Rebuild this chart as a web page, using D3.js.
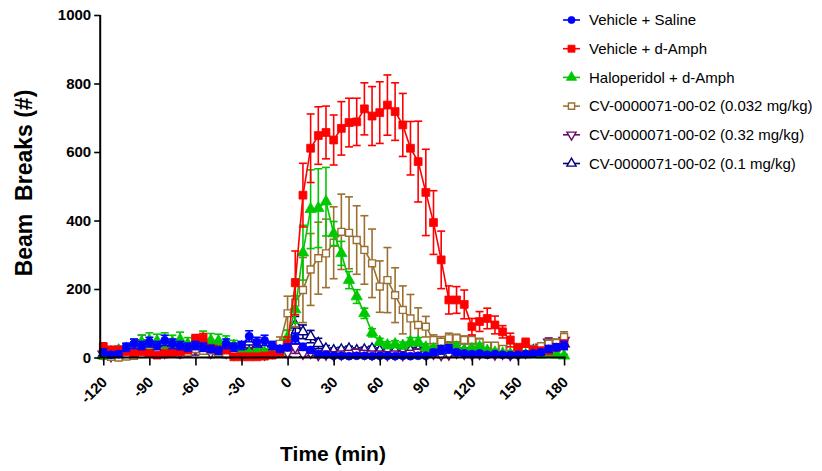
<!DOCTYPE html>
<html>
<head>
<meta charset="utf-8">
<script src="https://cdn.jsdelivr.net/npm/d3@7/dist/d3.min.js"></script>
<style>
  html, body { margin: 0; padding: 0; background: #fff; }
  svg { display: block; }
  text { font-family: Arial, "Liberation Sans", sans-serif; }
</style>
</head>
<body>
<svg id="chart" width="822" height="471"></svg>
<script>
// Sampling times (min), one reading every 5 minutes
const times = d3.range(-120, 181, 5);

const xTicks = [-120, -90, -60, -30, 0, 30, 60, 90, 120, 150, 180];
const yTicks = [0, 200, 400, 600, 800, 1000];

// Mean beam breaks and SEM per group
const salineMean = [15, 8, 10, 30, 40, 35, 45, 35, 50, 40, 35, 30, 35, 30, 25, 20, 40, 30, 35, 62, 45, 50, 35, 25,
  30, 56, 31, 22, 10, 8, 5, 5, 4, 5, 5, 4, 5, 5, 4, 5, 4, 5, 5, 15, 22, 25, 15, 12, 10, 12, 8, 10, 8, 7, 8, 10, 12, 15, 25, 30, 35];
const salineSem = [10, 8, 8, 12, 14, 12, 14, 12, 15, 14, 12, 12, 12, 12, 10, 10, 14, 12, 12, 16, 14, 15, 12, 10,
  10, 15, 10, 8, 6, 5, 4, 4, 4, 4, 4, 4, 4, 4, 4, 4, 4, 4, 4, 8, 12, 12, 8, 6, 6, 6, 5, 5, 5, 5, 5, 6, 6, 8, 10, 10, 12];

const amphMean = [31, 22, 22, 17, 12, 17, 12, 7, 12, 12, 17, 22, 53, 56, 27, 22, 22, 2, 2, 2, 2, 4, 7, 12,
  40, 218, 474, 611, 648, 657, 635, 669, 686, 688, 726, 705, 715, 737, 718, 679, 611, 572, 482, 394, 285, 168, 168, 155,
  90, 105, 114, 95, 75, 51, 30, 43, 22, 20, 20, 30, 40];
const amphSem = [12, 10, 10, 8, 8, 8, 8, 6, 8, 8, 8, 10, 14, 14, 10, 10, 10, 4, 4, 4, 4, 4, 5, 6,
  20, 93, 93, 100, 84, 77, 73, 78, 71, 69, 76, 86, 90, 88, 84, 92, 78, 118, 126, 93, 84, 41, 39, 42,
  24, 29, 30, 26, 18, 20, 6, 13, 8, 8, 8, 10, 10];

const haloMean = [5, 10, 20, 25, 35, 45, 50, 48, 50, 45, 52, 40, 45, 55, 50, 48, 45, 35, 15, 12, 15, 15, 10, 20,
  60, 140, 306, 433, 436, 455, 362, 304, 226, 178, 129, 72, 46, 36, 39, 35, 46, 46, 30, 25, 20, 25, 30, 20,
  25, 31, 20, 15, 12, 10, 10, 8, 10, 8, 10, 8, 5];
const haloSem = [8, 10, 12, 15, 18, 20, 22, 20, 22, 20, 22, 18, 20, 22, 20, 20, 18, 15, 10, 8, 10, 10, 8, 10,
  20, 40, 80, 115, 115, 100, 35, 35, 25, 20, 15, 12, 10, 10, 10, 10, 12, 12, 10, 8, 8, 8, 10, 8,
  8, 10, 8, 6, 6, 5, 5, 5, 5, 5, 5, 5, 4];

const cvLowMean = [5, 2, 0, 3, 5, 10, 12, 20, 15, 18, 20, 15, 25, 20, 22, 15, 10, 8, 10, 5, 8, 10, 20, 40,
  129, 160, 197, 257, 290, 304, 335, 367, 364, 343, 314, 275, 207, 226, 182, 139, 114, 95, 90, 51, 46, 56, 56, 51,
  51, 44, 34, 34, 25, 30, 28, 30, 25, 33, 40, 42, 60];
const cvLowSem = [6, 4, 3, 4, 5, 8, 8, 10, 8, 8, 10, 8, 10, 10, 10, 8, 6, 5, 6, 5, 5, 6, 10, 20,
  50, 70, 95, 105, 105, 100, 105, 110, 105, 100, 100, 100, 75, 95, 80, 70, 70, 50, 30, 15, 15, 15, 12, 12,
  12, 12, 10, 10, 8, 10, 8, 8, 8, 10, 12, 12, 15];

const cvHighMean = [10, 5, 8, 15, 20, 40, 25, 20, 15, 20, 15, 20, 25, 30, 15, 20, 15, 10, 10, 15, 20, 10, 15, 20,
  15, 30, 12, 15, 8, 10, 8, 10, 12, 15, 12, 10, 10, 8, 10, 8, 12, 15, 10, 12, 8, 10, 15, 12,
  10, 12, 15, 10, 12, 8, 10, 15, 20, 30, 45, 40, 50];
const cvHighSem = [10, 8, 10, 15, 18, 25, 18, 16, 15, 16, 15, 16, 18, 20, 15, 16, 15, 12, 12, 14, 16, 12, 14, 16,
  12, 18, 10, 10, 8, 8, 8, 8, 8, 10, 8, 8, 8, 8, 8, 8, 8, 10, 8, 8, 8, 8, 10, 8,
  8, 8, 10, 8, 8, 8, 8, 10, 10, 12, 12, 12, 14];

const cvMidMean = [10, 15, 20, 25, 30, 35, 30, 25, 30, 35, 30, 25, 30, 35, 25, 30, 25, 20, 30, 45, 35, 30, 25, 30,
  40, 95, 75, 61, 41, 25, 20, 22, 25, 20, 22, 25, 20, 22, 20, 18, 20, 22, 18, 20, 25, 30, 25, 20,
  18, 20, 18, 15, 12, 15, 12, 18, 20, 25, 30, 35, 40];
const cvMidSem = [8, 10, 12, 14, 15, 16, 15, 14, 15, 16, 15, 14, 15, 16, 14, 15, 14, 12, 14, 18, 15, 14, 12, 14,
  15, 25, 20, 18, 15, 10, 8, 8, 8, 8, 8, 8, 8, 8, 8, 8, 8, 8, 8, 8, 10, 12, 10, 8,
  8, 8, 8, 6, 6, 6, 6, 8, 8, 10, 10, 12, 14];

const groupNames = [
  "Vehicle + Saline",
  "Vehicle + d-Amph",
  "Haloperidol + d-Amph",
  "CV-0000071-00-02 (0.032 mg/kg)",
  "CV-0000071-00-02 (0.32 mg/kg)",
  "CV-0000071-00-02 (0.1 mg/kg)"
];

const groups = [
  { name: groupNames[0], mean: salineMean, sem: salineSem, color: "#0000ff", symbol: d3.symbolCircle, size: 50, fill: true },
  { name: groupNames[1], mean: amphMean, sem: amphSem, color: "#ff0000", symbol: d3.symbolSquare, size: 62, fill: true },
  { name: groupNames[2], mean: haloMean, sem: haloSem, color: "#00c800", symbol: d3.symbolTriangle, size: 56, fill: true },
  { name: groupNames[3], mean: cvLowMean, sem: cvLowSem, color: "#9a7030", symbol: d3.symbolSquare, size: 48, fill: false },
  { name: groupNames[4], mean: cvHighMean, sem: cvHighSem, color: "#6a0d6a", symbol: d3.symbolTriangle, size: 46, fill: false, flip: true },
  { name: groupNames[5], mean: cvMidMean, sem: cvMidSem, color: "#00007f", symbol: d3.symbolTriangle, size: 46, fill: false }
];

const svg = d3.select("#chart");

const x = d3.scaleLinear().domain([-122, 181]).range([100.2, 565.6]);
const y = d3.scaleLinear().domain([0, 1000]).range([357.5, 15]);

// Plot groups from last to first so the saline series sits on top
const plot = svg.append("g");
groups.slice().reverse().forEach(g => {
  const pts = times.map((t, i) => ({ t, v: g.mean[i], e: g.sem[i] }));
  const layer = plot.append("g");

  // error bars with caps
  const eb = layer.selectAll("g.err").data(pts).join("g")
    .attr("stroke", g.color).attr("stroke-width", 1.6);
  eb.append("line")
    .attr("x1", d => x(d.t)).attr("x2", d => x(d.t))
    .attr("y1", d => y(Math.max(0, d.v - d.e))).attr("y2", d => y(d.v + d.e));
  eb.append("line")
    .attr("x1", d => x(d.t) - 4).attr("x2", d => x(d.t) + 4)
    .attr("y1", d => y(d.v + d.e)).attr("y2", d => y(d.v + d.e));
  eb.append("line")
    .attr("x1", d => x(d.t) - 4).attr("x2", d => x(d.t) + 4)
    .attr("y1", d => y(Math.max(0, d.v - d.e))).attr("y2", d => y(Math.max(0, d.v - d.e)));

  layer.append("path")
    .datum(pts)
    .attr("fill", "none")
    .attr("stroke", g.color)
    .attr("stroke-width", 1.6)
    .attr("d", d3.line().x(d => x(d.t)).y(d => y(d.v)));

  const sym = d3.symbol().type(g.symbol).size(g.size);
  layer.selectAll("path.m").data(pts).join("path")
    .attr("class", "m")
    .attr("d", sym)
    .attr("transform", d => `translate(${x(d.t)},${y(d.v)})${g.flip ? " rotate(180)" : ""}`)
    .attr("fill", g.fill ? g.color : "#fff")
    .attr("stroke", g.color)
    .attr("stroke-width", g.fill ? 0.8 : 1.4);
});

// Axes
const xAxis = svg.append("g")
  .attr("transform", `translate(0,${y(0)})`)
  .call(d3.axisBottom(x).tickValues(xTicks).tickSize(8).tickFormat(""));
xAxis.select(".domain").attr("stroke-width", 2).attr("d", `M${x(-122)},0H${x(181)}`);
xAxis.selectAll(".tick line").attr("stroke-width", 1.6);

svg.append("g").selectAll("text").data(xTicks).join("text")
  .attr("transform", d => `translate(${x(d) + 5},383) rotate(-45)`)
  .attr("text-anchor", "end")
  .attr("font-size", 15)
  .attr("font-weight", "bold")
  .attr("fill", "#000")
  .text(d => d);

const yAxis = svg.append("g")
  .attr("transform", `translate(${x(-122)},0)`)
  .call(d3.axisLeft(y).tickValues(yTicks).tickSize(6).tickPadding(3).tickFormat(d3.format("d")));
yAxis.select(".domain").attr("stroke-width", 2).attr("d", `M0,${y(1000)}V${y(0)}`);
yAxis.selectAll(".tick line").attr("stroke-width", 1.6);
yAxis.selectAll(".tick text")
  .attr("font-size", 15)
  .attr("font-weight", "bold")
  .attr("font-family", "Arial, 'Liberation Sans', sans-serif")
  .attr("fill", "#000");

// Axis titles
svg.append("text")
  .attr("transform", "translate(32,183) rotate(-90)")
  .attr("text-anchor", "middle")
  .attr("font-size", 23)
  .attr("font-weight", "bold")
  .attr("xml:space", "preserve")
  .style("white-space", "pre")
  .text("Beam  Breaks (#)");

svg.append("text")
  .attr("x", 333).attr("y", 461)
  .attr("text-anchor", "middle")
  .attr("font-size", 21)
  .attr("font-weight", "bold")
  .text("Time (min)");

// Legend
const legend = svg.append("g");
groups.forEach((g, i) => {
  const cy = 20 + i * 28.7;
  const row = legend.append("g").attr("transform", `translate(0,${cy})`);
  row.append("line").attr("x1", 563).attr("x2", 580).attr("y1", 0).attr("y2", 0)
    .attr("stroke", g.color).attr("stroke-width", 1.6);
  row.append("path")
    .attr("d", d3.symbol().type(g.symbol).size(g.size * 0.8)())
    .attr("transform", `translate(571.5,0)${g.flip ? " rotate(180)" : ""}`)
    .attr("fill", g.fill ? g.color : "#fff")
    .attr("stroke", g.color)
    .attr("stroke-width", g.fill ? 0.8 : 1.4);
  row.append("text")
    .attr("x", 589).attr("y", 0).attr("dy", "0.35em")
    .attr("font-size", 15)
    .attr("fill", "#000")
    .text(g.name);
});
</script>
</body>
</html>
